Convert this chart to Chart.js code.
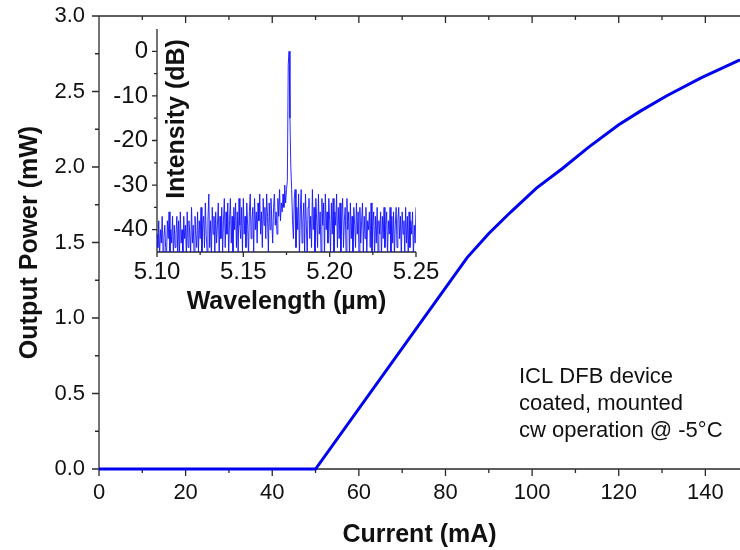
<!DOCTYPE html>
<html>
<head>
<meta charset="utf-8">
<script src="https://cdn.jsdelivr.net/npm/chart.js@4.4.1/dist/chart.umd.min.js"></script>
<style>
  body { margin: 0; background: #fff; }
  #wrap { position: relative; width: 740px; height: 550px; }
  canvas { position: absolute; left: 0; top: 0; }
</style>
</head>
<body>
<div id="wrap">
  <canvas id="main" width="740" height="550"></canvas>
  <canvas id="inset" width="740" height="550"></canvas>
</div>
<script>
// L-I curve of the device
const currentMA = [0, 50, 85, 90, 95, 101, 107, 113, 120, 125, 131, 139, 148];
const powerMW   = [0, 0, 1.40, 1.56, 1.70, 1.86, 1.99, 2.13, 2.28, 2.37, 2.47, 2.59, 2.71];

const currentTicks = [0, 20, 40, 60, 80, 100, 120, 140];
const currentTickLabels = ["0", "20", "40", "60", "80", "100", "120", "140"];
const currentMinor = [10, 30, 50, 70, 90, 110, 130];
const powerTicks = [0, 0.5, 1.0, 1.5, 2.0, 2.5, 3.0];
const powerTickLabels = ["0.0", "0.5", "1.0", "1.5", "2.0", "2.5", "3.0"];
const powerMinor = [0.25, 0.75, 1.25, 1.75, 2.25, 2.75];

// inset spectrum, sampled every 0.5 nm from 5.100 um
const lambdaStart = 5.100;
const lambdaStep = 0.0005;
const intensityDB = [
  -41, -44, -38, -46, -40, -43, -37, -45, -42, -39,
  -44, -46, -38, -42, -36, -45, -40, -43, -37, -46,
  -39, -44, -41, -37, -45, -38, -46, -36, -43, -40,
  -45, -37, -42, -39, -46, -36, -44, -38, -41, -45,
  -35, -43, -39, -46, -37, -41, -44, -36, -45, -38,
  -42, -35, -46, -39, -37, -44, -34, -41, -45, -38,
  -32, -44, -38, -46, -35, -41, -37, -45, -36, -43,
  -39, -34, -46, -37, -42, -35, -45, -38, -33, -44,
  -36, -41, -34, -46, -38, -33, -43, -37, -45, -35,
  -40, -34, -44, -36, -46, -33, -39, -42, -35, -45,
  -33, -41, -37, -44, -34, -39, -46, -36, -32, -42,
  -38, -35, -45, -33, -40, -36, -43, -34, -38, -32,
  -41, -36, -44, -33, -39, -35, -42, -32, -37, -45,
  -34, -40, -33, -38, -43, -35, -32, -39, -36, -41,
  -33, -37, -31, -38, -34, -36, -32, -35, -30, -34,
  -31, -29, -3, 0, -15, -26, -31, -38, -42, -33,
  -31, -44, -35, -40, -32, -46, -36, -31, -43, -38,
  -34, -45, -32, -39, -46, -35, -33, -42, -37, -44,
  -31, -40, -35, -46, -33, -38, -44, -32, -41, -36,
  -45, -33, -39, -34, -46, -32, -40, -36, -43, -33,
  -38, -45, -34, -41, -33, -46, -36, -39, -32, -44,
  -35, -42, -34, -46, -37, -33, -44, -38, -35, -45,
  -33, -40, -36, -46, -34, -42, -37, -45, -35, -39,
  -44, -34, -41, -36, -46, -35, -43, -38, -34, -45,
  -37, -42, -35, -46, -38, -40, -36, -44, -34, -45,
  -39, -36, -46, -37, -43, -35, -45, -38, -41, -36,
  -46, -37, -42, -35, -44, -39, -36, -46, -38, -41,
  -35, -45, -37, -43, -36, -46, -39, -35, -44, -38,
  -35, -42, -37, -46, -36, -41, -38, -45, -35, -43,
  -37, -46, -36, -44, -38, -41, -36, -46, -39, -43,
  -35
];
const lambdaTicks = [5.10, 5.15, 5.20, 5.25];
const lambdaTickLabels = ["5.10", "5.15", "5.20", "5.25"];
const lambdaMinor = [5.125, 5.175, 5.225];
const dbTicks = [0, -10, -20, -30, -40];
const dbTickLabels = ["0", "-10", "-20", "-30", "-40"];
const dbMinor = [-5, -15, -25, -35];

const notes = ["ICL DFB device", "coated, mounted", "cw operation @ -5°C"];

const FONT = "'Liberation Sans', Arial, sans-serif";
const AXIS_COLOR = "#2a2a2a";
const TEXT_COLOR = "#111";

// draws axis lines, ticks and labels from the chart's own scales
function framePlugin(o) {
  return {
    id: "frame",
    beforeDatasetsDraw(chart) {
      const ctx = chart.ctx;
      const a = chart.chartArea;
      const xs = chart.scales.x;
      const ys = chart.scales.y;
      ctx.save();
      ctx.strokeStyle = AXIS_COLOR;
      ctx.lineWidth = 1.3;
      ctx.beginPath();
      ctx.moveTo(a.left, a.top);
      ctx.lineTo(a.left, a.bottom);
      ctx.lineTo(a.right, a.bottom);
      if (o.topAxis) {
        ctx.moveTo(a.left, a.top);
        ctx.lineTo(a.right, a.top);
      }
      const xTick = (v, len) => {
        const px = xs.getPixelForValue(v);
        ctx.moveTo(px, a.bottom);
        ctx.lineTo(px, a.bottom + len);
        if (o.topAxis) {
          ctx.moveTo(px, a.top);
          ctx.lineTo(px, a.top + len);
        }
      };
      const yTick = (v, len) => {
        const py = ys.getPixelForValue(v);
        ctx.moveTo(a.left, py);
        ctx.lineTo(a.left - len, py);
      };
      o.xTicks.forEach(v => xTick(v, o.majorLen));
      o.xMinor.forEach(v => xTick(v, o.minorLen));
      o.yTicks.forEach(v => yTick(v, o.majorLen));
      o.yMinor.forEach(v => yTick(v, o.minorLen));
      ctx.stroke();
      ctx.restore();
    },
    afterDraw(chart) {
      const ctx = chart.ctx;
      const a = chart.chartArea;
      const xs = chart.scales.x;
      const ys = chart.scales.y;
      ctx.save();
      ctx.fillStyle = TEXT_COLOR;
      ctx.font = o.tickFont;
      ctx.textAlign = "center";
      ctx.textBaseline = "middle";
      o.xTicks.forEach((v, i) => {
        ctx.fillText(o.xLabels[i], xs.getPixelForValue(v), a.bottom + o.xLabelGap);
      });
      ctx.textAlign = "right";
      o.yTicks.forEach((v, i) => {
        ctx.fillText(o.yLabels[i], a.left - o.yLabelGap, ys.getPixelForValue(v));
      });
      ctx.font = o.titleFont;
      ctx.textAlign = "center";
      ctx.fillText(o.xTitle, (a.left + a.right) / 2, o.xTitleY);
      ctx.translate(o.yTitleX, o.yTitleCY == null ? (a.top + a.bottom) / 2 : o.yTitleCY);
      ctx.rotate(-Math.PI / 2);
      ctx.fillText(o.yTitle, 0, 0);
      ctx.restore();
      if (o.notes) {
        ctx.save();
        ctx.fillStyle = TEXT_COLOR;
        ctx.font = "22px " + FONT;
        ctx.textAlign = "left";
        ctx.textBaseline = "alphabetic";
        o.notes.forEach((t, i) => ctx.fillText(t, 519, 383 + i * 27));
        ctx.restore();
      }
    }
  };
}

new Chart(document.getElementById("main"), {
  type: "line",
  data: {
    datasets: [{
      data: currentMA.map((c, i) => ({ x: c, y: powerMW[i] })),
      borderColor: "rgb(0, 0, 240)",
      borderWidth: 3,
      pointRadius: 0,
      tension: 0,
      clip: 4
    }]
  },
  options: {
    responsive: false,
    animation: false,
    devicePixelRatio: 1,
    layout: { padding: { left: 99, top: 16, right: 0, bottom: 81 } },
    plugins: { legend: { display: false }, tooltip: { enabled: false } },
    scales: {
      x: { type: "linear", min: 0, max: 148, display: false },
      y: { type: "linear", min: 0, max: 3, display: false }
    }
  },
  plugins: [framePlugin({
    topAxis: true,
    majorLen: 7, minorLen: 4,
    xTicks: currentTicks, xLabels: currentTickLabels, xMinor: currentMinor,
    yTicks: powerTicks, yLabels: powerTickLabels, yMinor: powerMinor,
    tickFont: "22px " + FONT,
    titleFont: "bold 25px " + FONT,
    xLabelGap: 24, yLabelGap: 14,
    xTitle: "Current (mA)", xTitleY: 535,
    yTitle: "Output Power (mW)", yTitleX: 30,
    notes: notes
  })]
});

new Chart(document.getElementById("inset"), {
  type: "line",
  data: {
    datasets: [{
      data: intensityDB.map((d, i) => ({ x: lambdaStart + i * lambdaStep, y: d })),
      borderColor: "rgba(20, 20, 255, 0.9)",
      borderWidth: 1,
      pointRadius: 0,
      tension: 0
    }]
  },
  options: {
    responsive: false,
    animation: false,
    devicePixelRatio: 1,
    layout: { padding: { left: 157, top: 29, right: 324, bottom: 298 } },
    plugins: { legend: { display: false }, tooltip: { enabled: false } },
    scales: {
      x: { type: "linear", min: 5.10, max: 5.25, display: false },
      y: { type: "linear", min: -45, max: 5, display: false }
    }
  },
  plugins: [framePlugin({
    topAxis: false,
    majorLen: 5, minorLen: 3,
    xTicks: lambdaTicks, xLabels: lambdaTickLabels, xMinor: lambdaMinor,
    yTicks: dbTicks, yLabels: dbTickLabels, yMinor: dbMinor,
    tickFont: "24px " + FONT,
    titleFont: "bold 25px " + FONT,
    xLabelGap: 20, yLabelGap: 9,
    xTitle: "Wavelength (µm)", xTitleY: 302,
    yTitle: "Intensity (dB)", yTitleX: 177, yTitleCY: 119
  })]
});
</script>
</body>
</html>
